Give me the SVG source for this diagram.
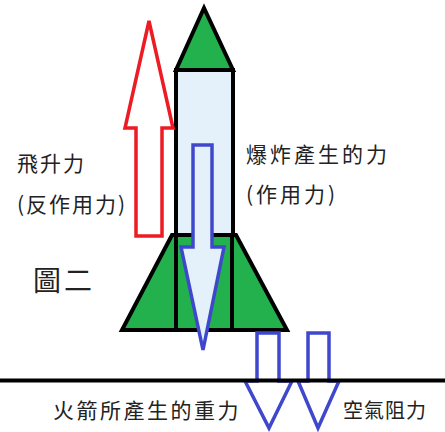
<svg xmlns="http://www.w3.org/2000/svg" width="445" height="432" viewBox="0 0 445 432">
  <style>
    .ink { stroke: #000; stroke-width: 4; stroke-linejoin: miter; }
    .fin { fill: #22B14C; }
    .body { fill: #E4F0FA; }
    .up { fill: #fff; stroke: #ED1C24; stroke-width: 3.5; }
    .down { stroke: #3F48CC; stroke-width: 3.5; }
    .lbl { font-family: "Noto Sans CJK TC", "Noto Sans", sans-serif; font-size: 21px; fill: #222; }
  </style>
  <rect width="445" height="432" fill="#fff"/>

  <g id="rocket">
    <rect class="ink body" x="176" y="70" width="57" height="260"/>
    <polygon class="ink fin" points="172,235 236,235 287,330 122,330"/>
    <line class="ink" x1="176" y1="235" x2="176" y2="330"/>
    <line class="ink" x1="232" y1="235" x2="232" y2="330"/>
    <polygon class="ink fin" points="176,70 233,70 204,8"/>
  </g>

  <g id="connectors">
    <polygon id="lift-arrow" class="up" points="136,236 162,236 162,128 173,128 149,21 125,128 136,128"/>
    <polygon id="thrust-arrow" class="down" fill="#E4F0FA" points="193,145 212,145 212,247 224,247 203,350 181,247 193,247"/>
    <polygon id="weight-arrow" class="down" fill="#fff" points="257,333 279,333 279,381 292,381 269,428 245,381 257,381"/>
    <polygon id="drag-arrow" class="down" fill="#fff" points="308,333 329,333 329,381 339,381 318,428 298,381 308,381"/>
  </g>

  <g id="ground">
    <line x1="0" y1="380.5" x2="445" y2="380.5" stroke="#000" stroke-width="4"/>
  </g>

  <g id="labels">
    <text class="lbl" x="17" y="171" letter-spacing="2">飛升力</text>
    <text class="lbl" x="17" y="212" letter-spacing="2">(反作用力)</text>
    <text class="lbl" x="33" y="291" style="font-size:28px" letter-spacing="3">圖二</text>
    <text class="lbl" x="246" y="162" letter-spacing="3">爆炸產生的力</text>
    <text class="lbl" x="246" y="202" letter-spacing="3">(作用力)</text>
    <text class="lbl" x="53" y="418" letter-spacing="2.5">火箭所產生的重力</text>
    <text class="lbl" x="343" y="418" style="font-size:20px" letter-spacing="1">空氣阻力</text>
  </g>
</svg>
